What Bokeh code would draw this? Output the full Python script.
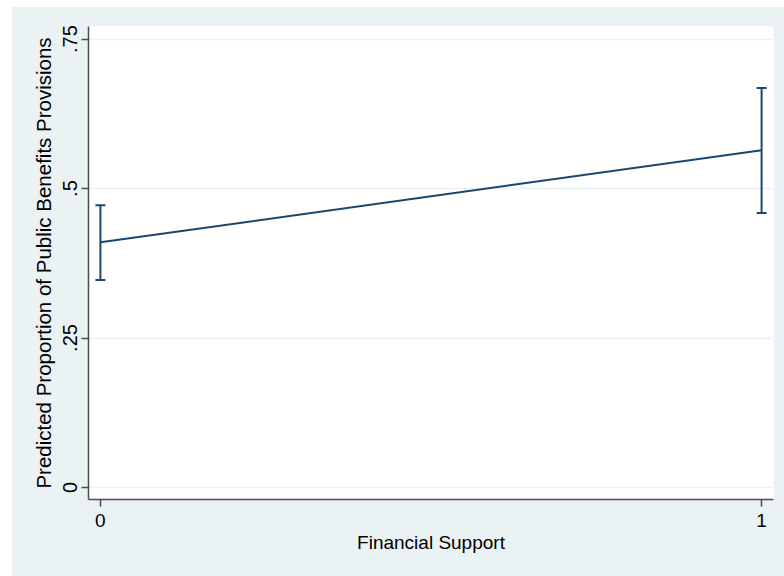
from bokeh.plotting import figure
from bokeh.models import ColumnDataSource, Whisker, TeeHead, FixedTicker, Range1d
from bokeh.embed import file_html
from bokeh.resources import INLINE

# Data
x_vals = [0, 1]
pred = [0.410, 0.564]
ci_lower = [0.347, 0.459]
ci_upper = [0.472, 0.668]
y_ticks = [0, 0.25, 0.5, 0.75]
y_tick_labels = {0: "0", 0.25: ".25", 0.5: ".5", 0.75: ".75"}
x_tick_labels = {0: "0", 1: "1"}

BG = "#EAF2F3"
NAVY = "#1A476F"
AX = "#4d4d4d"
FONT = "Liberation Sans"

p = figure(width=773, height=570, output_backend="svg", toolbar_location=None,
           x_range=Range1d(-0.018, 1.018), y_range=Range1d(-0.0201, 0.771),
           min_border_left=77, min_border_right=11, min_border_top=20, min_border_bottom=77)
p.margin = (6, 0, 0, 11)
p.background_fill_color = "white"
p.border_fill_color = BG
p.outline_line_color = None

src = ColumnDataSource(dict(x=x_vals, y=pred, lo=ci_lower, hi=ci_upper))
p.line("x", "y", source=src, line_color=NAVY, line_width=2)
w = Whisker(base="x", lower="lo", upper="hi", source=src, line_color=NAVY, line_width=2,
            upper_head=TeeHead(size=10, line_color=NAVY, line_width=2),
            lower_head=TeeHead(size=10, line_color=NAVY, line_width=2))
p.add_layout(w)

p.xgrid.visible = False
p.ygrid.grid_line_color = BG
p.ygrid.grid_line_width = 1.5

p.yaxis.ticker = FixedTicker(ticks=y_ticks)
p.yaxis.major_label_overrides = y_tick_labels
p.yaxis.major_label_orientation = "vertical"
p.xaxis.ticker = FixedTicker(ticks=x_vals)
p.xaxis.major_label_overrides = x_tick_labels

for ax in (p.xaxis[0], p.yaxis[0]):
    ax.axis_line_color = AX
    ax.axis_line_width = 1.5
    ax.major_tick_line_color = AX
    ax.major_tick_line_width = 1.5
    ax.major_tick_out = 7
    ax.major_tick_in = 0
    ax.minor_tick_line_color = None
    ax.major_label_text_font = FONT
    ax.major_label_text_color = "black"
    ax.axis_label_text_font = FONT
    ax.axis_label_text_font_style = "normal"
    ax.axis_label_text_color = "black"

p.xaxis.major_label_text_font_size = "19px"
p.xaxis.axis_label_text_font_size = "19px"
p.yaxis.major_label_text_font_size = "20px"
p.yaxis.axis_label_text_font_size = "20.5px"

p.xaxis.axis_label = "Financial Support"
p.yaxis.axis_label = "Predicted Proportion of Public Benefits Provisions"
p.xaxis.major_label_standoff = 7
p.xaxis.axis_label_standoff = 2
p.yaxis.major_label_standoff = 4
p.yaxis.axis_label_standoff = 6

open("out.html", "w").write(file_html(p, INLINE))
